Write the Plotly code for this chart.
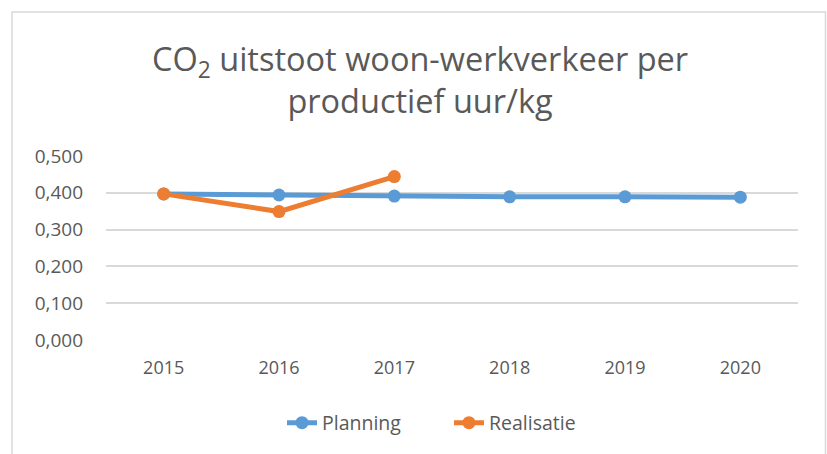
import plotly.graph_objects as go

years = ["2015", "2016", "2017", "2018", "2019", "2020"]
planning = [0.397, 0.394, 0.391, 0.389, 0.389, 0.388]
realisatie = [0.397, 0.349, 0.444]
realisatie_years = years[:3]
y_ticks = [0.0, 0.1, 0.2, 0.3, 0.4, 0.5]
y_tick_labels = ["0,000", "0,100", "0,200", "0,300", "0,400", "0,500"]

BLUE = "#5B9BD5"
ORANGE = "#ED7D31"
GRAY_TEXT = "#595959"
FONT = "Open Sans, Noto Sans, sans-serif"

W, H = 827, 454
L, R, T, B = 106, 29, 156, 114
pw, ph = W - L - R, H - T - B

def px(x):
    return (x - L) / pw

def py(y):
    return (H - B - y) / ph

fig = go.Figure()
fig.add_trace(go.Scatter(
    x=years, y=planning, name="Planning", mode="lines+markers",
    line=dict(color=BLUE, width=5), marker=dict(color=BLUE, size=13),
))
fig.add_trace(go.Scatter(
    x=realisatie_years, y=realisatie, name="Realisatie", mode="lines+markers",
    line=dict(color=ORANGE, width=5), marker=dict(color=ORANGE, size=13),
))

fig.update_layout(
    width=W, height=H,
    margin=dict(l=L, r=R, t=T, b=B),
    paper_bgcolor="white", plot_bgcolor="white",
    font=dict(family=FONT, color=GRAY_TEXT),
    showlegend=True,
    legend=dict(orientation="h", x=px(282), xanchor="left", y=py(423), yanchor="middle",
                font=dict(size=19.5, color=GRAY_TEXT), entrywidth=122,
                entrywidthmode="pixels", traceorder="normal"),
    xaxis=dict(type="category", range=[-0.5, 5.5], showgrid=False, zeroline=False,
               showline=False, ticks="", ticklabelstandoff=15,
               tickfont=dict(size=18, color=GRAY_TEXT)),
    yaxis=dict(range=[0, 0.5], tickvals=y_ticks, ticktext=y_tick_labels,
               showgrid=True, gridcolor="#D9D9D9", gridwidth=1.5, zeroline=False,
               showline=False, ticks="", ticklabelstandoff=22,
               tickfont=dict(size=19, color=GRAY_TEXT)),
    annotations=[dict(
        text="CO<sub>2</sub> uitstoot woon-werkverkeer per<br>productief uur/kg",
        xref="paper", yref="paper", x=px(420), y=py(80), xanchor="center", yanchor="middle",
        showarrow=False, font=dict(size=32.5, color=GRAY_TEXT, family=FONT),
    )],
    shapes=[dict(type="rect", xref="paper", yref="paper",
                 x0=px(12), x1=px(825.5), y0=py(470), y1=py(12),
                 line=dict(color="#D9D9D9", width=1.5), layer="below")],
)

fig.write_html("out.html", config={"displayModeBar": False},
               post_script="document.body.style.margin='0px';")
